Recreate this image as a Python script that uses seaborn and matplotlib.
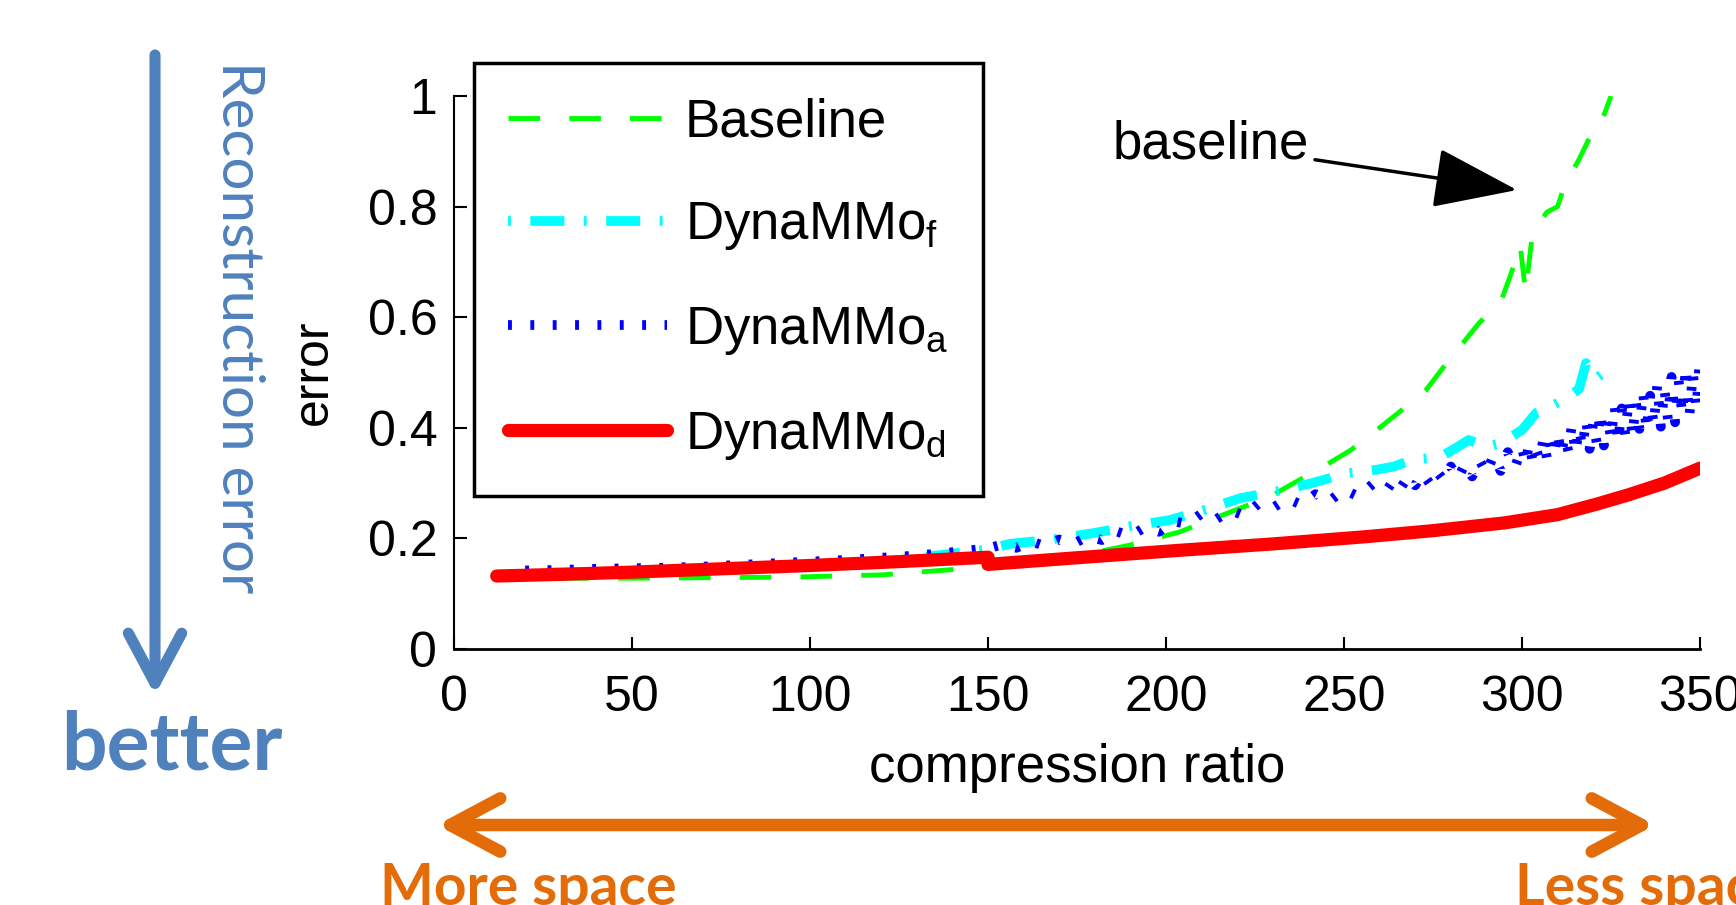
import numpy as np
import pandas as pd
import matplotlib
matplotlib.use('Agg')
import matplotlib.pyplot as plt
import seaborn as sns
from matplotlib.patches import FancyArrowPatch

# 数据
baseline_x = [12, 50, 95, 120, 145, 160, 178, 190, 204, 215, 229, 245, 252, 260, 267,
              273, 278, 283, 288, 294, 297, 299.5, 301, 303, 307, 310, 312, 316, 319, 321, 325]
baseline_y = [0.128, 0.128, 0.130, 0.134, 0.146, 0.155, 0.172, 0.188, 0.212, 0.240, 0.275,
              0.333, 0.360, 0.400, 0.436, 0.468, 0.510, 0.550, 0.590, 0.627, 0.680, 0.730,
              0.645, 0.755, 0.790, 0.800, 0.840, 0.885, 0.925, 0.930, 1.000]

dyn_f_x = [20, 50, 100, 130, 150, 156, 168, 180, 190, 201, 211, 221, 231, 241, 251, 259,
           264, 269, 277, 281, 285, 290, 294, 300, 304, 308, 313, 316, 318, 321, 323, 325]
dyn_f_y = [0.138, 0.140, 0.150, 0.165, 0.180, 0.190, 0.198, 0.210, 0.222, 0.233, 0.252,
           0.273, 0.285, 0.300, 0.318, 0.324, 0.330, 0.342, 0.347, 0.362, 0.378, 0.366,
           0.372, 0.396, 0.427, 0.438, 0.456, 0.470, 0.517, 0.490, 0.500, 0.520]

dyn_a_x = [20, 30, 40, 50, 60, 70, 80, 90, 100, 110, 120, 130, 140, 150,
           154, 158, 162, 166, 170, 174, 178, 182, 186, 190, 194, 198, 202, 206, 210,
           214, 218, 222, 226, 230, 234, 238, 242, 246, 250, 254, 258, 262,
           264, 266, 268, 270, 272, 274, 276, 278, 280, 282, 284, 286, 288, 290, 292,
           294, 296, 298,
           300, 301, 302, 303, 304, 305, 306, 307, 308, 309, 310, 311, 312, 313, 314,
           315, 316, 317, 318, 319, 320, 321, 322, 323, 324, 325, 326, 327, 328, 329,
           330, 331, 332, 333, 334, 335, 336, 337, 338, 339, 340, 341, 342, 343, 344,
           345, 346, 347, 348, 349, 350]
dyn_a_y = [0.142, 0.143, 0.145, 0.146, 0.147, 0.149, 0.152, 0.155, 0.158, 0.161, 0.165,
           0.169, 0.175, 0.182,
           0.189, 0.183, 0.195, 0.186, 0.198, 0.190, 0.204, 0.197, 0.213, 0.204, 0.220,
           0.212, 0.231, 0.226, 0.245, 0.234, 0.251, 0.241, 0.263, 0.255, 0.272, 0.261,
           0.280, 0.268, 0.288, 0.276, 0.298, 0.287,
           0.306, 0.292, 0.312, 0.296, 0.318, 0.300, 0.322, 0.305, 0.330, 0.308, 0.335,
           0.312, 0.342, 0.318, 0.350, 0.322, 0.356, 0.328,
           0.365, 0.335, 0.372, 0.338, 0.360, 0.342, 0.380, 0.345, 0.375, 0.350, 0.392,
           0.352, 0.385, 0.358, 0.405, 0.355, 0.398, 0.365, 0.415, 0.362, 0.410, 0.372,
           0.428, 0.368, 0.420, 0.380, 0.440, 0.375, 0.435, 0.388, 0.452, 0.385, 0.446,
           0.398, 0.465, 0.395, 0.458, 0.405, 0.478, 0.402, 0.470, 0.415, 0.492, 0.410,
           0.485, 0.425, 0.510, 0.420, 0.500, 0.435, 0.530]

dyn_d_x = [12, 30, 50, 75, 100, 125, 150, 150, 175, 205, 230, 256, 275, 295, 310, 321,
           330, 340, 350]
dyn_d_y = [0.132, 0.135, 0.139, 0.145, 0.151, 0.158, 0.166, 0.153, 0.165, 0.179, 0.190,
           0.203, 0.214, 0.228, 0.243, 0.262, 0.279, 0.300, 0.327]

W, H = 1736, 905


def px(x, y):
    return (x / W, 1 - y / H)


sns.set_theme(style='white')
plt.rcParams['font.family'] = ['Liberation Sans', 'DejaVu Sans']
plt.rcParams['text.color'] = 'black'
plt.rcParams['axes.labelcolor'] = 'black'

fig = plt.figure(figsize=(W / 100, H / 100), dpi=100)
ax = fig.add_axes([454 / W, 1 - 649 / H, (1700 - 454) / W, (649 - 96) / H])

series = [
    ('Baseline', baseline_x, baseline_y, '#00ff00', 3.5, (6.5, 6)),
    (r'DynaMMo$_\mathregular{f}$', dyn_f_x, dyn_f_y, '#00ffff', 7, (0.3, 2.0, 3.5, 2.0)),
    (r'DynaMMo$_\mathregular{a}$', dyn_a_x, dyn_a_y, '#0000ff', 7, (0.4, 1.9)),
    (r'DynaMMo$_\mathregular{d}$', dyn_d_x, dyn_d_y, '#ff0000', 9.5, None),
]
handles = []
for name, xs, ys, c, lw, dash in series:
    df = pd.DataFrame({'x': xs, 'y': ys})
    sns.lineplot(data=df, x='x', y='y', ax=ax, color=c, linewidth=lw, sort=False,
                 estimator=None, legend=False)
    line = ax.lines[-1]
    if dash is not None:
        line.set_dashes(dash)
    line.set_label(name)
    handles.append(line)

ax.set_xlim(0, 350)
ax.set_ylim(0, 1)
ax.set_xticks(range(0, 351, 50))
ax.set_yticks([0, 0.2, 0.4, 0.6, 0.8, 1])
ax.set_yticklabels(['0', '0.2', '0.4', '0.6', '0.8', '1'])
for s in ['top', 'right']:
    ax.spines[s].set_visible(False)
for s in ['left', 'bottom']:
    ax.spines[s].set_color('black')
    ax.spines[s].set_linewidth(1.5)
ax.spines['bottom'].set_linewidth(2)
ax.tick_params(axis='both', direction='in', length=9, width=1.5, colors='black',
               labelsize=36, left=True, bottom=True)
ax.tick_params(axis='x', pad=19)
ax.tick_params(axis='y', pad=12)
ax.set_xlabel('compression ratio', fontsize=38, color='black')
ax.set_ylabel('error', fontsize=36, color='black')
ax.xaxis.set_label_coords(0.5, -0.17)
ax.yaxis.set_label_coords(-0.094, 0.5)

leg = ax.legend(handles=handles, loc='upper left', bbox_to_anchor=px(474, 63),
                bbox_transform=fig.transFigure, fontsize=38, handlelength=3.0,
                handletextpad=0.35, labelspacing=1.0, borderpad=0.65, fancybox=False,
                framealpha=1, edgecolor='black', borderaxespad=0)
leg.get_frame().set_linewidth(2.5)

# baseline 标注
ax.annotate('baseline', xy=(298.6, 0.83), xytext=(185, 0.913), fontsize=38,
            ha='left', va='center', color='black',
            arrowprops=dict(arrowstyle='-|>, head_length=1.4, head_width=0.5',
                            color='black', lw=2.5, shrinkA=2, shrinkB=0))

# 左侧蓝色箭头与文字
blue = '#4f81bd'
fig.patches.append(FancyArrowPatch(px(155, 55), px(155, 695), transform=fig.transFigure,
                                   arrowstyle='->, head_length=3.0, head_width=1.6',
                                   mutation_scale=12, color=blue, lw=8,
                                   shrinkA=0, shrinkB=0,
                                   capstyle='round', joinstyle='round'))
fig.text(*px(238, 61), 'Reconstruction error', rotation=270, ha='center', va='top',
         fontsize=42, color=blue, family=['Lato', 'DejaVu Sans'])
fig.text(*px(172, 746), 'better', ha='center', va='center', fontsize=58,
         fontweight='bold', color=blue, family=['Lato', 'DejaVu Sans'])

# 底部橙色双向箭头
orange = '#e36c09'
fig.patches.append(FancyArrowPatch(px(437, 825), px(1655, 825), transform=fig.transFigure,
                                   arrowstyle='<->, head_length=3.0, head_width=1.6',
                                   mutation_scale=12, color=orange, lw=9,
                                   shrinkA=0, shrinkB=0,
                                   capstyle='round', joinstyle='round'))
fig.text(*px(380, 862), 'More space', ha='left', va='top', fontsize=41,
         fontweight='bold', color=orange, family=['Lato', 'DejaVu Sans'])
fig.text(*px(1515, 862), 'Less space', ha='left', va='top', fontsize=41,
         fontweight='bold', color=orange, family=['Lato', 'DejaVu Sans'])

fig.savefig('out.png', dpi=100, facecolor='white')
